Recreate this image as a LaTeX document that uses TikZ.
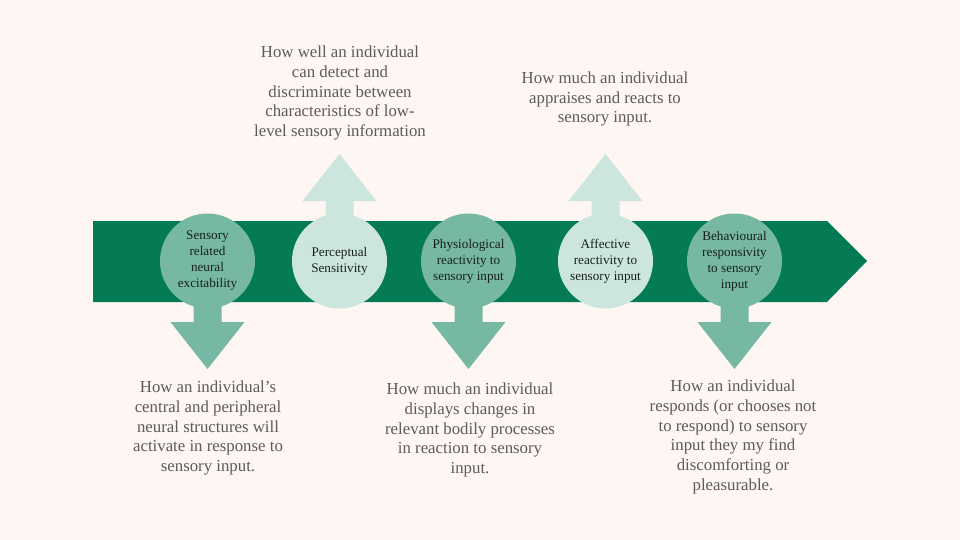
\documentclass[tikz,border=0pt]{standalone}
\usepackage{fontspec}
\setmainfont{Liberation Serif}
\usepackage{tikz}
\usetikzlibrary{positioning}

\definecolor{bandgreen}{HTML}{047A55}
\definecolor{midgreen}{HTML}{76B8A2}
\definecolor{palegreen}{HTML}{CDE6DD}
\definecolor{bgpink}{HTML}{FDF6F3}
\definecolor{captiongrey}{HTML}{5C5C5C}
\definecolor{stagetext}{HTML}{16201B}

\tikzset{
  stage/.style={circle, minimum size=95pt, inner sep=0pt, align=center,
    text=stagetext, font=\fontsize{13.2}{16}\selectfont},
  caption/.style={align=center, text=captiongrey,
    font=\fontsize{16.8}{19.7}\selectfont},
}

\begin{document}
\begin{tikzpicture}[x=1pt, y=-1pt]

\fill[bgpink] (0,0) rectangle (960,540);

% main band
\fill[bandgreen] (93,221) -- (827,221) -- (867,261) -- (827,302) -- (93,302) -- cycle;

\coordinate (c1) at (207.5,261);
\coordinate (c2) at (339.5,261);
\coordinate (c3) at (468.5,261);
\coordinate (c4) at (605.5,261);
\coordinate (c5) at (734.5,261);

% block arrows
\fill[midgreen] (c1) ++(-14,0) -- ++(0,61) -- ++(-23,0) -- ++(37,47) -- ++(37,-47) -- ++(-23,0) -- ++(0,-61) -- cycle;
\fill[midgreen] (c3) ++(-14,0) -- ++(0,61) -- ++(-23,0) -- ++(37,47) -- ++(37,-47) -- ++(-23,0) -- ++(0,-61) -- cycle;
\fill[midgreen] (c5) ++(-14,0) -- ++(0,61) -- ++(-23,0) -- ++(37,47) -- ++(37,-47) -- ++(-23,0) -- ++(0,-61) -- cycle;
\fill[palegreen] (c2) ++(-14,0) -- ++(0,-60) -- ++(-23,0) -- ++(37,-47) -- ++(37,47) -- ++(-23,0) -- ++(0,60) -- cycle;
\fill[palegreen] (c4) ++(-14,0) -- ++(0,-60) -- ++(-23,0) -- ++(37,-47) -- ++(37,47) -- ++(-23,0) -- ++(0,60) -- cycle;

% stages
\node[stage, fill=midgreen] (S1) at (c1) {Sensory\\related\\neural\\excitability};
\node[stage, fill=palegreen] (S2) at (c2) {Perceptual\\Sensitivity};
\node[stage, fill=midgreen] (S3) at (c3) {Physiological\\reactivity to\\sensory input};
\node[stage, fill=palegreen] (S4) at (c4) {Affective\\reactivity to\\sensory input};
\node[stage, fill=midgreen] (S5) at (c5) {Behavioural\\responsivity\\to sensory\\input};

% descriptions
\node[caption] (D1) at (208,428) {How an individual’s\\central and peripheral\\neural structures will\\activate in response to\\sensory input.};
\node[caption] (D2) at (340,93) {How well an individual\\can detect and\\discriminate between\\characteristics of low-\\level sensory information};
\node[caption] (D3) at (470,430) {How much an individual\\displays changes in\\relevant bodily processes\\in reaction to sensory\\input.};
\node[caption] (D4) at (605,99) {How much an individual\\appraises and reacts to\\sensory input.};
\node[caption] (D5) at (733,437) {How an individual\\responds (or chooses not\\to respond) to sensory\\input they my find\\discomforting or\\pleasurable.};

\end{tikzpicture}
\end{document}
